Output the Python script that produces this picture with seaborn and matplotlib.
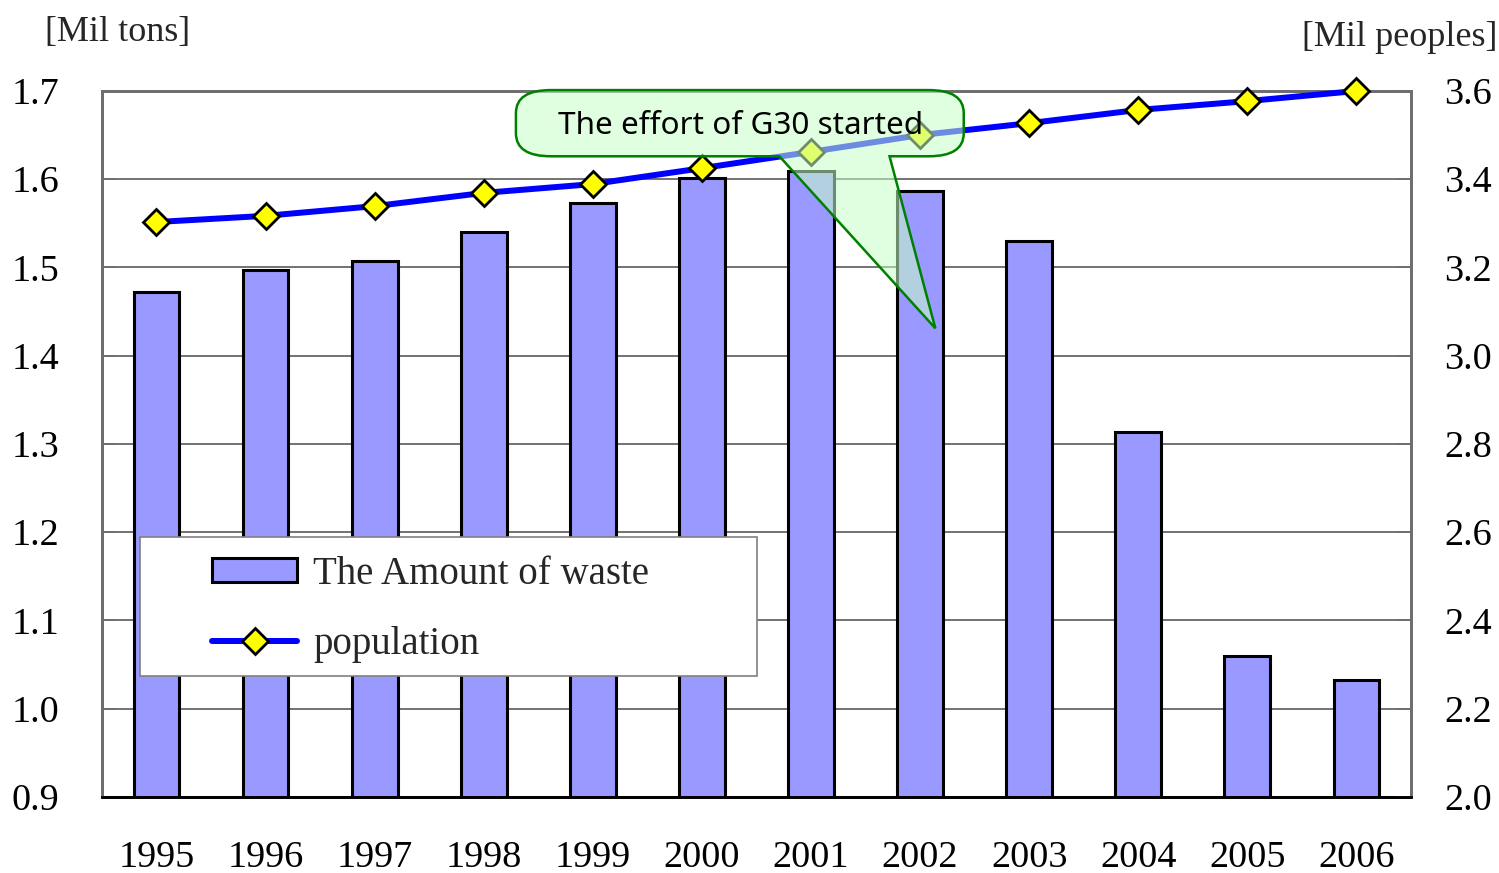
import numpy as np
import pandas as pd
import matplotlib
matplotlib.use("Agg")
import matplotlib.pyplot as plt
from matplotlib.path import Path
from matplotlib.patches import PathPatch, Patch, Rectangle
from matplotlib.lines import Line2D
import seaborn as sns

years = ["1995", "1996", "1997", "1998", "1999", "2000",
         "2001", "2002", "2003", "2004", "2005", "2006"]
waste = [1.472, 1.497, 1.507, 1.540, 1.573, 1.601,
         1.609, 1.587, 1.530, 1.314, 1.060, 1.033]
population = [3.303, 3.317, 3.339, 3.369, 3.389, 3.425,
              3.462, 3.500, 3.527, 3.557, 3.577, 3.600]
left_ticks = [0.9, 1.0, 1.1, 1.2, 1.3, 1.4, 1.5, 1.6, 1.7]
right_ticks = [2.0, 2.2, 2.4, 2.6, 2.8, 3.0, 3.2, 3.4, 3.6]

sns.set_style("white")
plt.rcParams["font.family"] = ["Liberation Serif", "DejaVu Serif"]
plt.rcParams["font.size"] = 27.5

df = pd.DataFrame({"year": years, "waste": waste, "population": population})

fig = plt.figure(figsize=(14.99, 8.73), dpi=100)
ax = fig.add_axes([0.068, 0.0871, 0.8733, 0.8087])

sns.barplot(data=df, x="year", y="waste", color="#9999FF", saturation=1,
            width=0.42, edgecolor="black", linewidth=2.2, ax=ax, zorder=2)
ax.set_xlim(-0.5, len(years) - 0.5)
ax.set_ylim(0.9, 1.7)
ax.set_yticks(left_ticks)
ax.set_yticklabels([f"{t:.1f}" for t in left_ticks])
ax.yaxis.grid(True, color="#5a5a5a", linewidth=1.2)
ax.set_axisbelow(True)
ax.set_xlabel("")
ax.set_ylabel("")
ax.tick_params(axis="y", direction="in", length=10, width=1.2, pad=31, colors="#6e6e6e", labelcolor="black")
ax.tick_params(axis="x", which="major", length=0, pad=31, labelcolor="black")
ax.set_xticks(np.arange(0.5, len(years) - 1, 1), minor=True)
ax.tick_params(axis="x", which="minor", direction="in", length=8, width=1.2, colors="#6e6e6e")

ax2 = ax.twinx()
sns.lineplot(x=np.arange(len(years)), y=population, ax=ax2, color="#0000FF",
             linewidth=4.3, marker="D", markersize=13, markerfacecolor="#FFFF00",
             markeredgecolor="black", markeredgewidth=2, zorder=3, clip_on=False)
ax2.set_ylim(2.0, 3.6)
ax2.set_yticks(right_ticks)
ax2.set_yticklabels([f"{t:.1f}" for t in right_ticks])
ax2.tick_params(axis="y", direction="in", length=10, width=1.2, pad=24, colors="#6e6e6e", labelcolor="black")
ax2.set_xlim(-0.5, len(years) - 0.5)

for a in (ax, ax2):
    for side in ("left", "right", "top"):
        a.spines[side].set_color("#6e6e6e")
        a.spines[side].set_linewidth(2)
    a.spines["bottom"].set_color("black")
    a.spines["bottom"].set_linewidth(2)

# callout bubble (left-axis data coordinates)
L, R, T, B = 3.295, 7.40, 1.701, 1.626
rx, ry = 0.32, 0.026
pl, pr = 5.71, 6.72
tip = (7.14, 1.431)
verts = [(L + rx, T), (R - rx, T), (R, T), (R, T - ry), (R, B + ry), (R, B), (R - rx, B),
         (pr, B), tip, (pl, B), (L + rx, B), (L, B), (L, B + ry), (L, T - ry), (L, T),
         (L + rx, T), (L + rx, T)]
codes = [Path.MOVETO, Path.LINETO, Path.CURVE3, Path.CURVE3, Path.LINETO, Path.CURVE3, Path.CURVE3,
         Path.LINETO, Path.LINETO, Path.LINETO, Path.LINETO, Path.CURVE3, Path.CURVE3, Path.LINETO,
         Path.CURVE3, Path.CURVE3, Path.CLOSEPOLY]
bubble = PathPatch(Path(verts, codes), facecolor=(0.78, 1.0, 0.78, 0.55), edgecolor="#008000",
                   linewidth=1.8, transform=ax.transData, zorder=5, clip_on=False)
ax2.add_patch(bubble)
ax2.text(5.35, 1.660, "The effort of G30 started", transform=ax.transData,
         ha="center", va="center", fontsize=22.7, family=["Noto Sans", "DejaVu Sans"],
         color="black", zorder=6)

# legend frame and entries
ax2.add_patch(Rectangle((0.029, 0.171), 0.4714, 0.197, transform=ax2.transAxes,
                        facecolor="white", edgecolor="#808080", linewidth=1.2,
                        zorder=6, clip_on=False))
handles = [Patch(facecolor="#9999FF", edgecolor="black", linewidth=2.2),
           Line2D([0], [0], color="#0000FF", linewidth=4.3, marker="D", markersize=13,
                  markerfacecolor="#FFFF00", markeredgecolor="black", markeredgewidth=2)]
leg = ax2.legend(handles, ["The Amount of waste", "population"], loc="center left",
                 bbox_to_anchor=(0.084, 0.266), borderaxespad=0, borderpad=0,
                 frameon=False, fontsize=28, handlelength=2.2, handleheight=0.6,
                 handletextpad=0.4, labelspacing=0.85)
leg.set_zorder(7)

fig.text(45 / 1499, 1 - 33 / 873, "[Mil tons]", ha="left", va="center", fontsize=26)
fig.text(1497 / 1499, 1 - 37 / 873, "[Mil peoples]", ha="right", va="center", fontsize=26)

fig.savefig("out.png", dpi=100)
